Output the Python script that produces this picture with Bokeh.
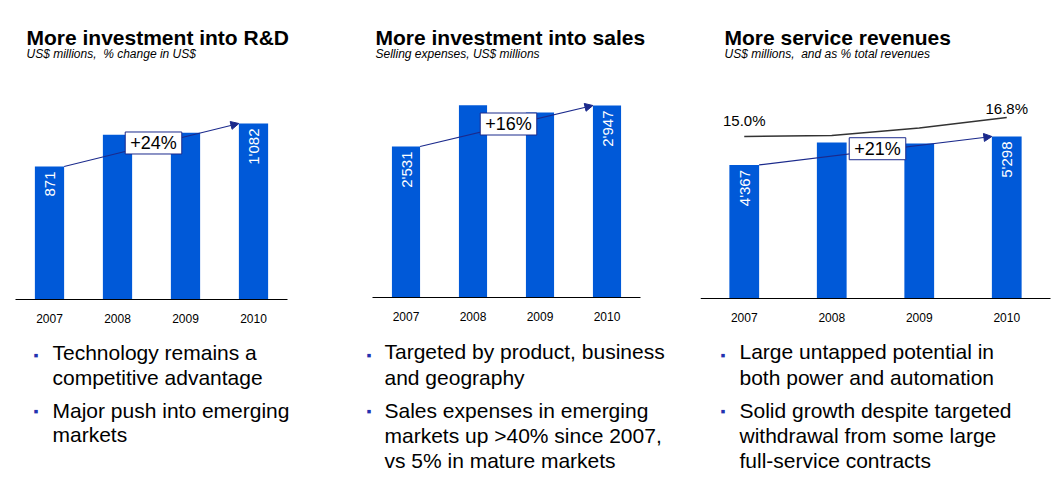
import math
from bokeh.plotting import figure
from bokeh.models import Range1d, Label, Arrow, NormalHead
from bokeh.layouts import row
from bokeh.embed import file_html
from bokeh.resources import INLINE

# ---------------- data ----------------
years = ["2007", "2008", "2009", "2010"]
rd_values = [871, 1027, 1037, 1082]
sales_values = [2531, 2950, 2875, 2947]
service_values = [4367, 5100, 5070, 5298]
service_share_pct = [15.0, 15.1, 15.8, 16.8]

titles = ["More investment into R&D", "More investment into sales", "More service revenues"]
subtitles = ["US$ millions,\u00a0\u00a0% change in US$", "Selling expenses, US$ millions",
             "US$ millions,\u00a0\u00a0and as % total revenues"]
bullets_rd = [["Technology remains a", "competitive advantage"],
              ["Major push into emerging", "markets"]]
bullets_sales = [["Targeted by product, business", "and geography"],
                 ["Sales expenses in emerging", "markets up >40% since 2007,",
                  "vs 5% in mature markets"]]
bullets_service = [["Large untapped potential in", "both power and automation"],
                   ["Solid growth despite targeted", "withdrawal from some large",
                    "full-service contracts"]]

FONT = "Liberation Sans"
BAR = "#0059D8"
NAVY = "#1B2A8C"
H = 485
BASE_FIX = 0.32  # baseline correction (fraction of font size)


def fmt(v):
    return f"{v:,}".replace(",", "'")


def make_panel(values, title, subtitle, bullets, box, y0, px_per_unit, bw,
               text_x, bullet_x, line_ys):
    fig_x0, fig_w, ch_left, ch_w, base_y = box
    n = len(years)
    unit = ch_w / n
    xs0 = -0.5 - (ch_left - fig_x0) / unit
    ys0 = y0 - (H - base_y) / px_per_unit
    p = figure(width=fig_w, height=H, output_backend="svg", toolbar_location=None,
               title=None, tools="",
               x_range=Range1d(xs0, xs0 + fig_w / unit),
               y_range=Range1d(ys0, y0 + base_y / px_per_unit),
               x_axis_location=None, y_axis_location=None,
               min_border_left=0, min_border_right=0, min_border_top=0, min_border_bottom=0)
    p.outline_line_color = None
    p.grid.visible = False
    p.background_fill_color = "white"
    p.border_fill_color = "white"

    xs = list(range(n))
    p.vbar(x=xs, top=values, bottom=y0, width=bw, fill_color=BAR, line_color=None)

    # category axis: baseline + year labels
    p.segment(x0=[-0.5], y0=[y0], x1=[n - 0.5], y1=[y0], line_color="black", line_width=1)
    p.text(x=xs, y=[y0] * n, text=years, y_offset=23 - BASE_FIX * 12, text_align="center",
           text_baseline="alphabetic", text_font={"value": FONT}, text_font_size="12px",
           text_color="black")

    # vertical value labels on first and last bars
    p.text(x=[xs[0], xs[-1]], y=[values[0], values[-1]],
           text=[fmt(values[0]), fmt(values[-1])],
           angle=math.pi / 2, text_align="right", text_baseline="middle",
           y_offset=5, text_color="white", text_font_size="15px",
           text_font={"value": FONT})

    # growth arrow
    p.add_layout(Arrow(end=NormalHead(size=8, fill_color=NAVY, line_color=NAVY, line_width=1),
                       x_start=xs[0] + bw / 2, y_start=values[0],
                       x_end=xs[-1] - bw / 2, y_end=values[-1],
                       line_color=NAVY, line_width=1.2))
    growth = round((values[-1] / values[0] - 1) * 100)
    p.add_layout(Label(x=(xs[0] + xs[-1]) / 2, y=(values[0] + values[-1]) / 2,
                       x_offset=2, y_offset=2,
                       text=f"+{growth}%", text_align="center", text_baseline="middle",
                       text_font=FONT, text_font_size="18px", text_color="black",
                       background_fill_color="white", border_line_color=NAVY,
                       border_line_width=1, padding=(5, 1)))

    def stext(px, py, text, size, style="normal", color="black", baseline="alphabetic"):
        if baseline == "alphabetic":
            py = py - BASE_FIX * size
        p.add_layout(Label(x=px - fig_x0, y=H - py, x_units="screen", y_units="screen",
                           text=text, text_font=FONT, text_font_size=f"{size}px",
                           text_font_style=style, text_color=color,
                           text_align="left", text_baseline=baseline))

    stext(text_x[0], 44, title, 21, "bold")
    stext(text_x[0], 57, subtitle, 12, "italic")

    bullet_tops = [354, 410]
    li = 0
    for bi, lines in enumerate(bullets):
        stext(bullet_x, bullet_tops[bi], "\u25aa", 14, color="#2232B0", baseline="middle")
        for line in lines:
            stext(text_x[1], line_ys[li], line, 21)
            li += 1
    return p, xs


p1, xs = make_panel(rd_values, titles[0], subtitles[0], bullets_rd,
                    (0, 360, 15, 272, 299), 218, 0.2037, 0.43,
                    (26, 52), 33, [359, 384, 417, 441])
p2, _ = make_panel(sales_values, titles[1], subtitles[1], bullets_sales,
                   (360, 340, 372, 268, 297), 999, 0.09856, 0.42,
                   (375, 384), 366, [358, 384, 417, 442, 467])
p3, _ = make_panel(service_values, titles[2], subtitles[2], bullets_service,
                   (700, 356, 700, 350, 298), 0, 0.03058, 0.34,
                   (724, 739), 720, [358, 384, 417, 442, 467])

# share of total revenues line (own scale: 10.556 px per percentage point)
pct_start = service_share_pct[0] - (298 - 136) / 10.556
p3.extra_y_ranges = {"pct": Range1d(pct_start - (H - 298) / 10.556, pct_start + 298 / 10.556)}
p3.line(x=xs, y=service_share_pct, y_range_name="pct", line_color="#333333", line_width=1.5)
for i, off in ((0, 11), (len(xs) - 1, 4)):
    p3.add_layout(Label(x=xs[i], y=service_share_pct[i], y_range_name="pct",
                        y_offset=off + BASE_FIX * 15,
                        text=f"{service_share_pct[i]:.1f}%", text_align="center",
                        text_baseline="alphabetic", text_font=FONT, text_font_size="15px",
                        text_color="black"))

layout = row(p1, p2, p3, spacing=0)
open("out.html", "w").write(file_html(layout, INLINE))
